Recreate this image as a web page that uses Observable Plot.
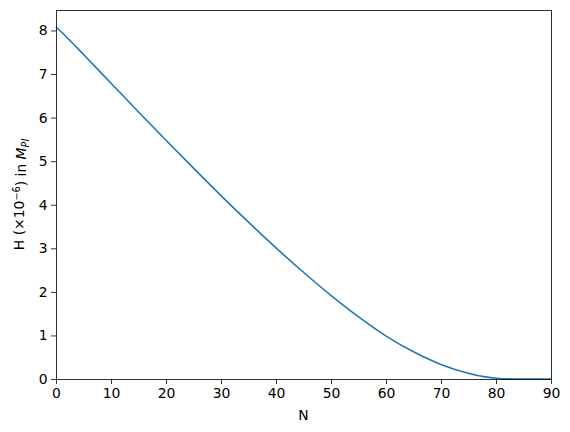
<!DOCTYPE html>
<html><head><meta charset="utf-8">
<script src="https://cdn.jsdelivr.net/npm/d3@7"></script>
<script src="https://cdn.jsdelivr.net/npm/@observablehq/plot@0.6"></script>
<style>body{margin:0;background:#fff}</style>
</head><body><div id="chart"></div><script>
const N = [0, 1, 2, 5, 10, 15, 20, 25, 30, 35, 40, 45, 50, 55, 60, 65, 70, 75, 78, 80, 82, 85, 90];
const H = [8.08, 7.965, 7.84, 7.45, 6.79, 6.13, 5.48, 4.84, 4.21, 3.60, 3.01, 2.45, 1.92, 1.43, 0.99, 0.63, 0.34, 0.14, 0.06, 0.03, 0.015, 0.01, 0.01];
const xTicks = [0, 10, 20, 30, 40, 50, 60, 70, 80, 90];
const yTicks = [0, 1, 2, 3, 4, 5, 6, 7, 8];
const xLabel = "N";

const data = N.map((n, i) => ({n, h: H[i]}));
const chart = Plot.plot({
  width: 570, height: 432,
  marginLeft: 56, marginRight: 19, marginTop: 10, marginBottom: 53,
  style: {fontFamily: "DejaVu Sans", fontSize: "13.9px", background: "white", color: "black"},
  x: {domain: [0, 90]},
  y: {domain: [0, 8.47]},
  marks: [
    Plot.line(data, {x: "n", y: "h", stroke: "#1f77b4", strokeWidth: 1.6, curve: "monotone-x"}),
    Plot.frame({stroke: "black", strokeWidth: 0.8}),
    Plot.axisX(xTicks, {tickSize: 5, tickPadding: 4, label: null, strokeWidth: 0.8}),
    Plot.axisY(yTicks, {tickSize: 5, tickPadding: 4, label: null, strokeWidth: 0.8})
  ]
});
document.getElementById("chart").appendChild(chart);
const svg = d3.select(chart);
svg.append("text").attr("x", (56 + 551) / 2).attr("y", 420)
  .attr("text-anchor", "middle").attr("font-size", "13.9px").attr("font-family", "DejaVu Sans")
  .attr("fill", "black").text(xLabel);
const yl = svg.append("text")
  .attr("transform", `translate(24,${(10 + 379) / 2}) rotate(-90)`)
  .attr("text-anchor", "middle").attr("font-size", "13.9px").attr("font-family", "DejaVu Sans").attr("fill", "black");
yl.append("tspan").text("H (×10");
yl.append("tspan").attr("dy", "-0.45em").attr("font-size", "9.7px").text("−6");
yl.append("tspan").attr("dy", "0.45em").text(") in ");
yl.append("tspan").attr("font-style", "italic").text("M");
yl.append("tspan").attr("dy", "0.3em").attr("font-size", "9.7px").attr("font-style", "italic").text("Pl");
</script></body></html>
